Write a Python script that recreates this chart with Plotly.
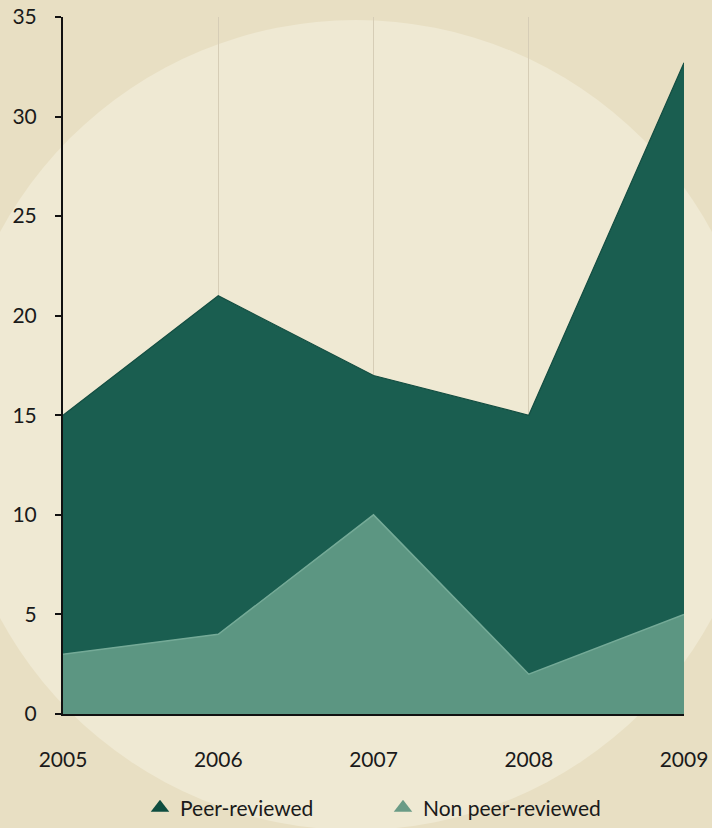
import plotly.graph_objects as go

years = [2005, 2006, 2007, 2008, 2009]
non_peer = [3, 4, 10, 2, 5]
peer = [12, 17, 7, 13, 27.7]
y_ticks = [0, 5, 10, 15, 20, 25, 30, 35]

DARK = "#1a5e50"
LIGHT = "#5c9682"
FONT = dict(family="Lato, Open Sans, sans-serif", size=21, color="#1a1a1a")

fig = go.Figure()
fig.add_trace(go.Scatter(
    x=years, y=non_peer, stackgroup="s", mode="lines",
    line=dict(color="#74aa97", width=1.5), fillcolor=LIGHT,
    showlegend=False, hoverinfo="skip"))
fig.add_trace(go.Scatter(
    x=years, y=peer, stackgroup="s", mode="lines",
    line=dict(color="#134d41", width=1.2), fillcolor=DARK,
    showlegend=False, hoverinfo="skip"))
# legend entries with triangle symbols
fig.add_trace(go.Scatter(x=[None], y=[None], mode="markers", name="Peer-reviewed",
                         marker=dict(symbol="triangle-up", size=16, color="#0e4d40")))
fig.add_trace(go.Scatter(x=[None], y=[None], mode="markers", name="Non peer-reviewed",
                         marker=dict(symbol="triangle-up", size=16, color="#6a9b86")))

# lighter parchment circle in the background
fig.add_shape(type="circle", xref="paper", yref="paper", layer="below",
              x0=(356 - 405 - 63) / 621, x1=(356 + 405 - 63) / 621,
              y0=(714 - 830) / 697, y1=(714 - 20) / 697,
              fillcolor="#efe9d3", line=dict(width=0))

fig.update_layout(
    width=712, height=828,
    margin=dict(l=63, r=28, t=17, b=114, autoexpand=False),
    paper_bgcolor="#e8dfc3",
    plot_bgcolor="rgba(0,0,0,0)",
    font=FONT,
    showlegend=True,
    legend=dict(orientation="h", x=140 / 712, xanchor="left", xref="container",
                y=20 / 828, yanchor="middle", yref="container",
                traceorder="normal",
                font=dict(size=21, color="#1a1a1a"), itemwidth=30,
                bgcolor="rgba(0,0,0,0)", entrywidth=198, entrywidthmode="pixels"),
)
fig.update_xaxes(range=[2005, 2009], tickvals=years, ticktext=[str(y) for y in years],
                 showgrid=True, gridcolor="#d6cdb6", gridwidth=1,
                 showline=True, linecolor="#111111", linewidth=2,
                 ticks="", ticklabelstandoff=26, zeroline=False, fixedrange=True,
                 automargin=False)
fig.update_yaxes(range=[0, 35], tickvals=y_ticks, showgrid=False,
                 showline=True, linecolor="#111111", linewidth=2,
                 ticks="outside", ticklen=6, tickcolor="#111111", tickwidth=1.5,
                 ticklabelstandoff=14, zeroline=False, fixedrange=True,
                 automargin=False)

fig.write_html("out.html")
